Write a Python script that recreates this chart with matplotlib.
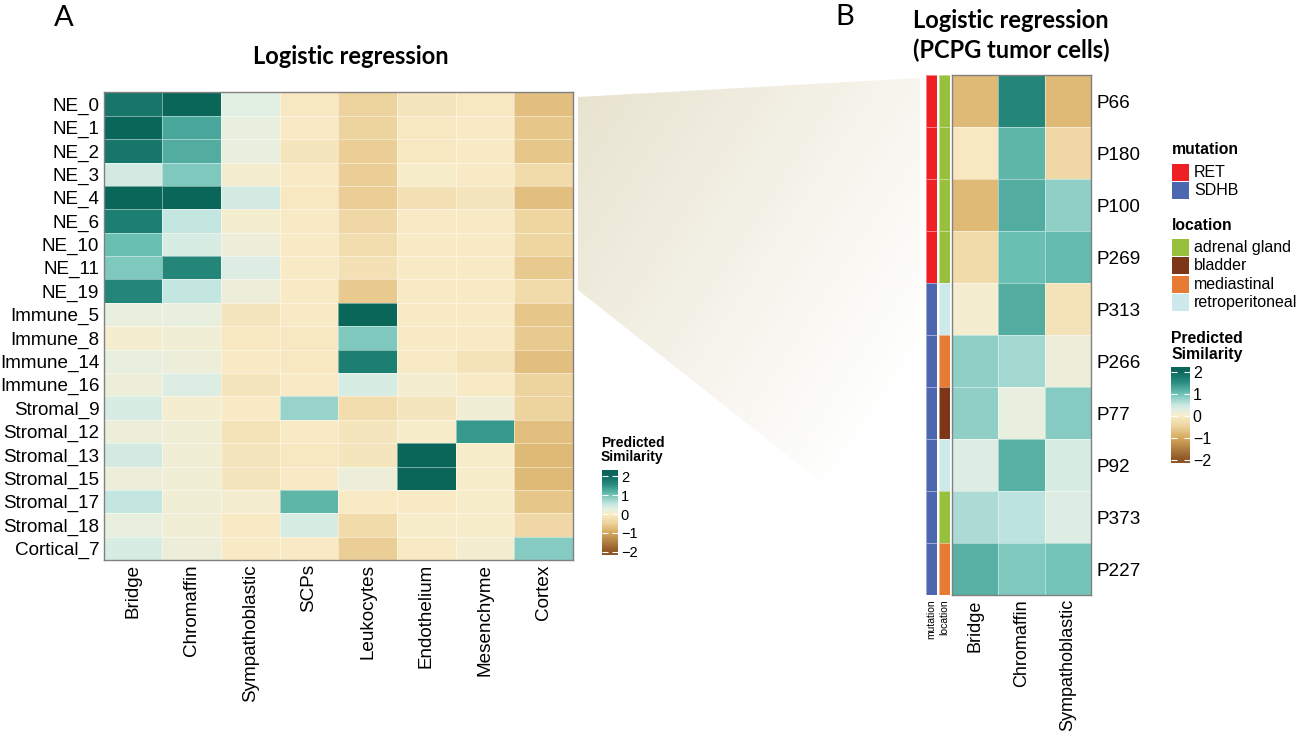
import numpy as np
import matplotlib
matplotlib.use('Agg')
import matplotlib.pyplot as plt
from matplotlib.colors import LinearSegmentedColormap, ListedColormap, Normalize
from matplotlib.patches import Polygon, Rectangle

plt.rcParams['font.family'] = ['Liberation Sans', 'DejaVu Sans']
plt.rcParams['axes.unicode_minus'] = True

W, H = 1299, 735

# ---- data: panel A ----
cell_types = ['Bridge', 'Chromaffin', 'Sympathoblastic', 'SCPs',
              'Leukocytes', 'Endothelium', 'Mesenchyme', 'Cortex']
clusters = ['NE_0', 'NE_1', 'NE_2', 'NE_3', 'NE_4', 'NE_6', 'NE_10', 'NE_11',
            'NE_19', 'Immune_5', 'Immune_8', 'Immune_14', 'Immune_16',
            'Stromal_9', 'Stromal_12', 'Stromal_13', 'Stromal_15',
            'Stromal_17', 'Stromal_18', 'Cortical_7']
similarity_a = np.array([
    [1.8, 2.0, 0.25, -0.1, -0.5, -0.15, -0.1, -0.75],
    [2.0, 1.25, 0.2, -0.05, -0.5, -0.1, -0.05, -0.65],
    [1.8, 1.2, 0.2, -0.15, -0.55, -0.1, -0.05, -0.65],
    [0.4, 0.9, 0.05, -0.05, -0.55, 0.0, -0.05, -0.35],
    [2.0, 2.0, 0.4, -0.1, -0.55, -0.25, -0.15, -0.75],
    [1.7, 0.5, 0.05, -0.05, -0.4, -0.05, -0.05, -0.45],
    [1.0, 0.35, 0.15, -0.05, -0.3, -0.05, -0.05, -0.45],
    [0.9, 1.6, 0.3, -0.05, -0.25, -0.05, -0.05, -0.6],
    [1.6, 0.5, 0.15, -0.05, -0.6, -0.05, -0.05, -0.35],
    [0.2, 0.2, -0.15, -0.05, 2.0, -0.05, -0.05, -0.65],
    [0.05, 0.1, -0.1, -0.1, 0.9, -0.05, -0.05, -0.6],
    [0.2, 0.15, -0.05, -0.1, 1.7, -0.05, -0.2, -0.75],
    [0.15, 0.3, -0.15, -0.05, 0.35, 0.05, -0.05, -0.5],
    [0.35, 0.05, -0.05, 0.75, -0.3, -0.15, 0.1, -0.5],
    [0.15, 0.1, -0.2, -0.05, -0.15, 0.0, 1.4, -0.75],
    [0.4, 0.1, -0.15, -0.1, -0.15, 2.0, 0.0, -0.8],
    [0.15, 0.1, -0.15, -0.05, 0.15, 2.0, 0.0, -0.8],
    [0.5, 0.1, 0.05, 1.1, -0.05, -0.05, 0.0, -0.65],
    [0.2, 0.1, -0.05, 0.35, -0.35, 0.0, 0.0, -0.4],
    [0.35, 0.15, -0.05, -0.05, -0.55, -0.05, 0.05, 0.85],
])

# ---- data: panel B ----
tumor_types = ['Bridge', 'Chromaffin', 'Sympathoblastic']
patients = ['P66', 'P180', 'P100', 'P269', 'P313', 'P266', 'P77', 'P92',
            'P373', 'P227']
similarity_b = np.array([
    [-0.8, 1.6, -0.8],
    [-0.1, 1.1, -0.4],
    [-0.8, 1.2, 0.8],
    [-0.35, 1.0, 1.05],
    [0.05, 1.2, -0.2],
    [0.8, 0.7, 0.15],
    [0.8, 0.2, 0.85],
    [0.3, 1.15, 0.35],
    [0.65, 0.55, 0.3],
    [1.15, 0.9, 0.95],
])
mutation = ['RET', 'RET', 'RET', 'RET', 'SDHB', 'SDHB', 'SDHB', 'SDHB',
            'SDHB', 'SDHB']
location = ['adrenal gland', 'adrenal gland', 'adrenal gland', 'adrenal gland',
            'retroperitoneal', 'mediastinal', 'bladder', 'retroperitoneal',
            'adrenal gland', 'mediastinal']
mutation_levels = ['RET', 'SDHB']
mutation_colors = ['#ee2024', '#4c66b0']
location_levels = ['adrenal gland', 'bladder', 'mediastinal', 'retroperitoneal']
location_colors = ['#97c13c', '#7d3617', '#e87b34', '#cde9ec']

# colour scale
sim_nodes = [-2, -1, -0.5, 0, 0.25, 0.5, 1, 1.5, 2]
sim_colors = ['#8c5526', '#d6aa5e', '#edd39c', '#f9edca', '#e3efe3',
              '#c6e7e2', '#6cc0b4', '#2a8f82', '#0b665a']
cmap = LinearSegmentedColormap.from_list(
    'sim', [((v + 2) / 4, c) for v, c in zip(sim_nodes, sim_colors)])
norm = Normalize(-2, 2)

fig = plt.figure(figsize=(W / 100, H / 100), dpi=100)


def px_axes(x0, y0, x1, y1):
    return fig.add_axes([x0 / W, 1 - y1 / H, (x1 - x0) / W, (y1 - y0) / H])


def ftext(x, y, s, **kw):
    return fig.text(x / W, 1 - y / H, s, **kw)


# zoom wedge between the two panels
bg = px_axes(0, 0, W, H)
bg.set_xlim(0, W)
bg.set_ylim(H, 0)
bg.axis('off')
bg.set_zorder(-5)
gx, gy = np.meshgrid(np.linspace(0, 1, 200), np.linspace(0, 1, 300))
fade = np.clip(1 - 0.65 * gx - 0.6 * gy, 0, 1)
base = np.array([0.91, 0.89, 0.81])
img = np.ones((300, 200, 4))
img[..., :3] = 1 - (1 - base) * fade[..., None]
im = bg.imshow(img, extent=(578, 920, 560, 78), origin='upper', aspect='auto')
wedge = Polygon([(578, 97), (920, 78), (920, 560), (578, 290)], closed=True,
                facecolor='none', edgecolor='none', transform=bg.transData)
bg.add_patch(wedge)
im.set_clip_path(wedge)

cell_edge = (1, 1, 1, 0.45)

# ---- panel A heatmap ----
ax = px_axes(103.5, 92.5, 573, 560)
ax.pcolormesh(similarity_a, cmap=cmap, norm=norm, edgecolors=cell_edge,
              linewidth=0.4)
ax.set_xlim(0, len(cell_types))
ax.set_ylim(len(clusters), 0)
ax.set_xticks(np.arange(len(cell_types)) + 0.5)
ax.set_xticklabels(cell_types, rotation=90, fontsize=13.6)
ax.set_yticks(np.arange(len(clusters)) + 0.5)
ax.set_yticklabels(clusters, fontsize=13.6)
ax.tick_params(length=0, pad=3)
for s in ax.spines.values():
    s.set_color('#808080')
    s.set_linewidth(1)

ftext(64, 18, 'A', ha='center', va='center', fontsize=21, family='Lato')
ftext(351, 57, 'Logistic regression', ha='center', va='center',
      fontsize=17, fontweight='bold', family='Lato')


def draw_colorbar(x0, y0, x1, y1, lo, hi, fsize):
    cax = px_axes(x0, y0, x1, y1)
    grad = np.linspace(lo, hi, 256)[:, None]
    cax.imshow(grad, cmap=cmap, norm=norm, aspect='auto', origin='lower',
               extent=(0, 1, lo, hi))
    cax.set_xlim(0, 1)
    cax.set_ylim(lo, hi)
    cax.set_xticks([])
    cax.set_yticks([-2, -1, 0, 1, 2])
    cax.set_yticklabels(['\u22122', '\u22121', '0', '1', '2'], fontsize=fsize)
    cax.tick_params(axis='y', direction='in', left=True, right=True,
                    labelleft=False, labelright=True, color='white',
                    length=4, width=0.8, pad=2)
    for s in cax.spines.values():
        s.set_visible(False)
    return cax


draw_colorbar(602, 470, 618, 555, -2.16, 2.32, 10.5)
ftext(601, 464, 'Predicted\nSimilarity', ha='left', va='bottom',
      fontsize=10, fontweight='bold', linespacing=1.0)

# ---- panel B heatmap ----
ax2 = px_axes(952, 75, 1091, 595)
ax2.pcolormesh(similarity_b, cmap=cmap, norm=norm, edgecolors=cell_edge,
               linewidth=0.4)
ax2.set_xlim(0, len(tumor_types))
ax2.set_ylim(len(patients), 0)
ax2.set_xticks(np.arange(len(tumor_types)) + 0.5)
ax2.set_xticklabels(tumor_types, rotation=90, fontsize=13)
ax2.set_yticks(np.arange(len(patients)) + 0.5)
ax2.set_yticklabels(patients, fontsize=13.6)
ax2.yaxis.tick_right()
ax2.tick_params(axis='y', length=0, pad=4)
ax2.tick_params(axis='x', length=0, pad=3)
for s in ax2.spines.values():
    s.set_color('#808080')
    s.set_linewidth(1)

# annotation columns
for (x0, x1, name, values, levels, colors) in [
        (926, 937, 'mutation', mutation, mutation_levels, mutation_colors),
        (939, 950, 'location', location, location_levels, location_colors)]:
    aax = px_axes(x0, 75, x1, 595)
    idx = np.array([levels.index(v) for v in values])[:, None]
    aax.pcolormesh(idx, cmap=ListedColormap(colors), vmin=-0.5,
                   vmax=len(levels) - 0.5, edgecolors=cell_edge, linewidth=0.4)
    aax.set_xlim(0, 1)
    aax.set_ylim(len(values), 0)
    aax.set_yticks([])
    aax.set_xticks([0.5])
    aax.set_xticklabels([name], rotation=90, fontsize=7.5)
    aax.tick_params(length=0, pad=3)
    for s in aax.spines.values():
        s.set_visible(False)

ftext(845, 17, 'B', ha='center', va='center', fontsize=21, family='Lato')
ftext(1011, 20, 'Logistic regression', ha='center', va='center',
      fontsize=17, fontweight='bold', family='Lato')
ftext(1011, 50, '(PCPG tumor cells)', ha='center', va='center',
      fontsize=17, fontweight='bold', family='Lato')


# legends for panel B
def draw_legend(title, labels, colors, title_y, first_y, step=18.4):
    ftext(1172, title_y, title, ha='left', va='center', fontsize=11.3,
          fontweight='bold')
    for i, (lab, col) in enumerate(zip(labels, colors)):
        y = first_y + i * step
        bg.add_patch(Rectangle((1172, y), 17, 17, facecolor=col,
                               edgecolor='none'))
        ftext(1194, y + 8.5, lab, ha='left', va='center', fontsize=11.5)


draw_legend('mutation', mutation_levels, mutation_colors, 150, 164)
draw_legend('location', location_levels, location_colors, 225, 239)

ftext(1171, 362, 'Predicted\nSimilarity', ha='left', va='bottom',
      fontsize=11.3, fontweight='bold', linespacing=1.05)
draw_colorbar(1171, 367, 1190, 463, -2.14, 2.23, 11.5)

fig.savefig('out.png', dpi=100)
